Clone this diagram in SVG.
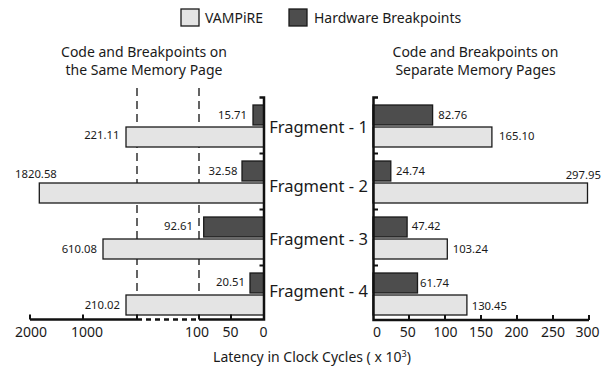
<svg xmlns="http://www.w3.org/2000/svg" width="610" height="368" viewBox="0 0 610 368">
<style>
text{font-family:"Noto Sans","Open Sans","DejaVu Sans",sans-serif;fill:#1a1a1a}
.v{fill:#e4e4e4;stroke:#1a1a1a;stroke-width:1.3}
.h{fill:#4d4d4d;stroke:#1a1a1a;stroke-width:1.3}
.ax{stroke:#111;stroke-width:2.5;fill:none}
.tk{stroke:#111;stroke-width:2;fill:none}
.dl{stroke:#111;stroke-width:1.3;stroke-dasharray:8,5;fill:none}
.val{font-size:11.3px}
.tl{font-size:14px;text-anchor:middle}
.frag{font-size:16.5px;text-anchor:middle}
.ttl{font-size:14px;text-anchor:middle}
</style>
<g id="legend">
<rect class="v" x="181" y="9" width="18" height="17"/>
<text x="205" y="23" font-size="14">VAMPiRE</text>
<rect class="h" x="289" y="9" width="18" height="17"/>
<text x="314" y="23" font-size="14">Hardware Breakpoints</text>
</g>
<g id="titles">
<text class="ttl" x="144" y="57">Code and Breakpoints on</text>
<text class="ttl" x="144" y="75">the Same Memory Page</text>
<text class="ttl" x="475.5" y="57">Code and Breakpoints on</text>
<text class="ttl" x="475.5" y="75">Separate Memory Pages</text>
</g>
<g id="connectors">
<line class="dl" x1="137" y1="88" x2="137" y2="318"/>
<line class="dl" x1="199" y1="88" x2="199" y2="318"/>
</g>
<g id="left-bars">
<rect class="h" x="253" y="105" width="11" height="20"/>
<rect class="v" x="126" y="127" width="138" height="20"/>
<rect class="h" x="242" y="161" width="22" height="20"/>
<rect class="v" x="39.3" y="183" width="224.7" height="20"/>
<rect class="h" x="203.7" y="217" width="60.3" height="20"/>
<rect class="v" x="103" y="239" width="161" height="20"/>
<rect class="h" x="250" y="273" width="14" height="20"/>
<rect class="v" x="126" y="295" width="138" height="20"/>
</g>
<g id="right-bars">
<rect class="h" x="373" y="105" width="59.6" height="20"/>
<rect class="v" x="373" y="127" width="118.9" height="20"/>
<rect class="h" x="373" y="161" width="17.8" height="20"/>
<rect class="v" x="373" y="183" width="214.5" height="20"/>
<rect class="h" x="373" y="217" width="34.1" height="20"/>
<rect class="v" x="373" y="239" width="74.3" height="20"/>
<rect class="h" x="373" y="273" width="44.5" height="20"/>
<rect class="v" x="373" y="295" width="93.9" height="20"/>
</g>
<g id="left-axis">
<path class="ax" d="M259.5,97.5 H264 V319.5 H199 M137,319.5 H30"/>
<line class="ax" x1="137" y1="319.5" x2="199" y2="319.5" stroke-dasharray="5,4"/>
<path class="tk" d="M259.5,153.5 H264 M259.5,209.5 H264 M259.5,265.5 H264 M30,314.5 V319.5 M83,314.5 V319.5 M137,314.5 V319.5 M199,314.5 V319.5 M231,314.5 V319.5"/>
<text class="tl" x="31" y="337">2000</text>
<text class="tl" x="87" y="337">1000</text>
<text class="tl" x="197" y="337">100</text>
<text class="tl" x="230.5" y="337">50</text>
<text class="tl" x="263.5" y="337">0</text>
</g>
<g id="right-axis">
<path class="ax" d="M378,97.5 H373.5 V320 H589"/>
<path class="tk" d="M373.5,153.5 H378 M373.5,209.5 H378 M373.5,265.5 H378 M409,315 V320 M445,315 V320 M481,315 V320 M517,315 V320 M553,315 V320 M589,315 V320"/>
<text class="tl" x="377" y="337">0</text>
<text class="tl" x="407.7" y="337">50</text>
<text class="tl" x="445.5" y="337">100</text>
<text class="tl" x="481" y="337">150</text>
<text class="tl" x="516.5" y="337">200</text>
<text class="tl" x="553" y="337">250</text>
<text class="tl" x="587.5" y="337">300</text>
</g>
<g id="fragments">
<text class="frag" x="318.5" y="133">Fragment - 1</text>
<text class="frag" x="318.5" y="192">Fragment - 2</text>
<text class="frag" x="318.5" y="245">Fragment - 3</text>
<text class="frag" x="318.5" y="297">Fragment - 4</text>
</g>
<g id="values">
<text class="val" x="247" y="118.5" text-anchor="end">15.71</text>
<text class="val" x="119.5" y="139" text-anchor="end">221.11</text>
<text class="val" x="15" y="178">1820.58</text>
<text class="val" x="237.5" y="175" text-anchor="end">32.58</text>
<text class="val" x="193" y="229.5" text-anchor="end">92.61</text>
<text class="val" x="97" y="252.5" text-anchor="end">610.08</text>
<text class="val" x="245" y="286" text-anchor="end">20.51</text>
<text class="val" x="120" y="308.5" text-anchor="end">210.02</text>
<text class="val" x="438.3" y="118.5">82.76</text>
<text class="val" x="499" y="140">165.10</text>
<text class="val" x="396" y="174.5">24.74</text>
<text class="val" x="601" y="178.5" text-anchor="end">297.95</text>
<text class="val" x="411.7" y="229.5">47.42</text>
<text class="val" x="452.7" y="252.5">103.24</text>
<text class="val" x="420" y="286.5">61.74</text>
<text class="val" x="471.7" y="310">130.45</text>
</g>
<g id="axis-title">
<text class="ttl" x="312" y="362">Latency in Clock Cycles ( x 10<tspan font-size="9" dy="-5">3</tspan><tspan dy="5">)</tspan></text>
</g>
</svg>
